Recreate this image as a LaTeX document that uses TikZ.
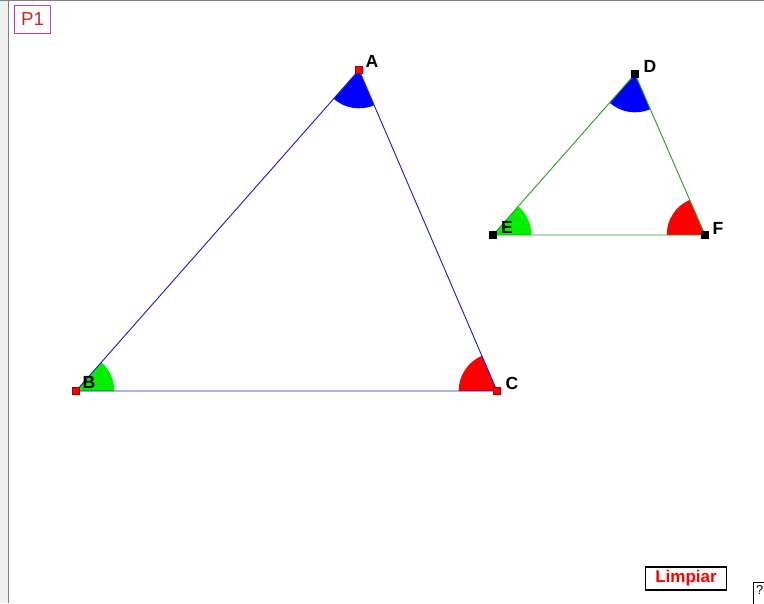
\documentclass[tikz,border=0pt]{standalone}
\usepackage{fontspec}
\setmainfont{Liberation Sans}
\usetikzlibrary{angles}

\definecolor{sideblue}{RGB}{30,30,200}
\definecolor{sidegreen}{RGB}{40,160,40}
\definecolor{angblue}{RGB}{0,0,255}
\definecolor{anggreen}{RGB}{0,240,0}
\definecolor{angred}{RGB}{255,0,0}
\definecolor{boxpink}{RGB}{190,60,190}
\definecolor{textred}{RGB}{200,40,40}

\begin{document}
\begin{tikzpicture}[x=0.03cm, y=-0.03cm,
  pt/.style={rectangle, inner sep=0pt, minimum size=5.5pt, draw=#1!60!black, fill=#1, line width=0.7pt},
  lbl/.style={font=\fontsize{15}{17}\selectfont\bfseries},
  sector/.style={fill=#1, draw=none, angle radius=1.15cm}]
  \useasboundingbox (0,0) rectangle (764,603);
  \clip (0,0) rectangle (764,603);

  % frame
  \fill[gray!12] (0,0) rectangle (8,603);
  \draw[gray, line width=0.8pt] (8.5,0) -- (8.5,603);
  \draw[gray, line width=0.8pt] (0,0.5) -- (764,0.5);
  \node[draw=boxpink, line width=1.4pt, text=textred, font=\fontsize{16}{18}\selectfont,
        minimum width=31pt, minimum height=24pt, inner sep=0pt] (p1) at (32.5,19.5) {P1};

  % big triangle
  \coordinate (A) at (359,70);
  \coordinate (B) at (76,391);
  \coordinate (C) at (497,391);
  \pic[sector=angblue] {angle=B--A--C};
  \pic[sector=anggreen] {angle=C--B--A};
  \pic[sector=angred] {angle=A--C--B};
  \draw[sideblue, line width=0.8pt] (A) -- (B) -- (C) -- cycle;
  \node[pt=red] (ptA) at (A) {};
  \node[pt=red] (ptB) at (B) {};
  \node[pt=red] (ptC) at (C) {};
  \node[lbl] (labA) at (372,61) {A};
  \node[lbl] (labB) at (89,382) {B};
  \node[lbl] (labC) at (512,383) {C};

  % small triangle
  \coordinate (D) at (635,74);
  \coordinate (E) at (493,235);
  \coordinate (F) at (705,235);
  \pic[sector=angblue] {angle=E--D--F};
  \pic[sector=anggreen] {angle=F--E--D};
  \pic[sector=angred] {angle=D--F--E};
  \draw[sidegreen, line width=0.8pt] (D) -- (E) -- (F) -- cycle;
  \node[pt=black] (ptD) at (D) {};
  \node[pt=black] (ptE) at (E) {};
  \node[pt=black] (ptF) at (F) {};
  \node[lbl] (labD) at (650,66) {D};
  \node[lbl] (labE) at (507,227) {E};
  \node[lbl] (labF) at (718,228) {F};

  % buttons
  \node[draw, line width=1.1pt, text=red, font=\fontsize{14.5}{16}\selectfont\bfseries,
        minimum width=69pt, minimum height=19.5pt, inner sep=0pt] (clear) at (686,578.5) {Limpiar};
  \draw[line width=0.6pt] (753,582) rectangle (775,610);
  \node[font=\fontsize{11}{13}\selectfont, anchor=north west, inner sep=0pt] (help) at (756,585) {?};
\end{tikzpicture}
\end{document}
